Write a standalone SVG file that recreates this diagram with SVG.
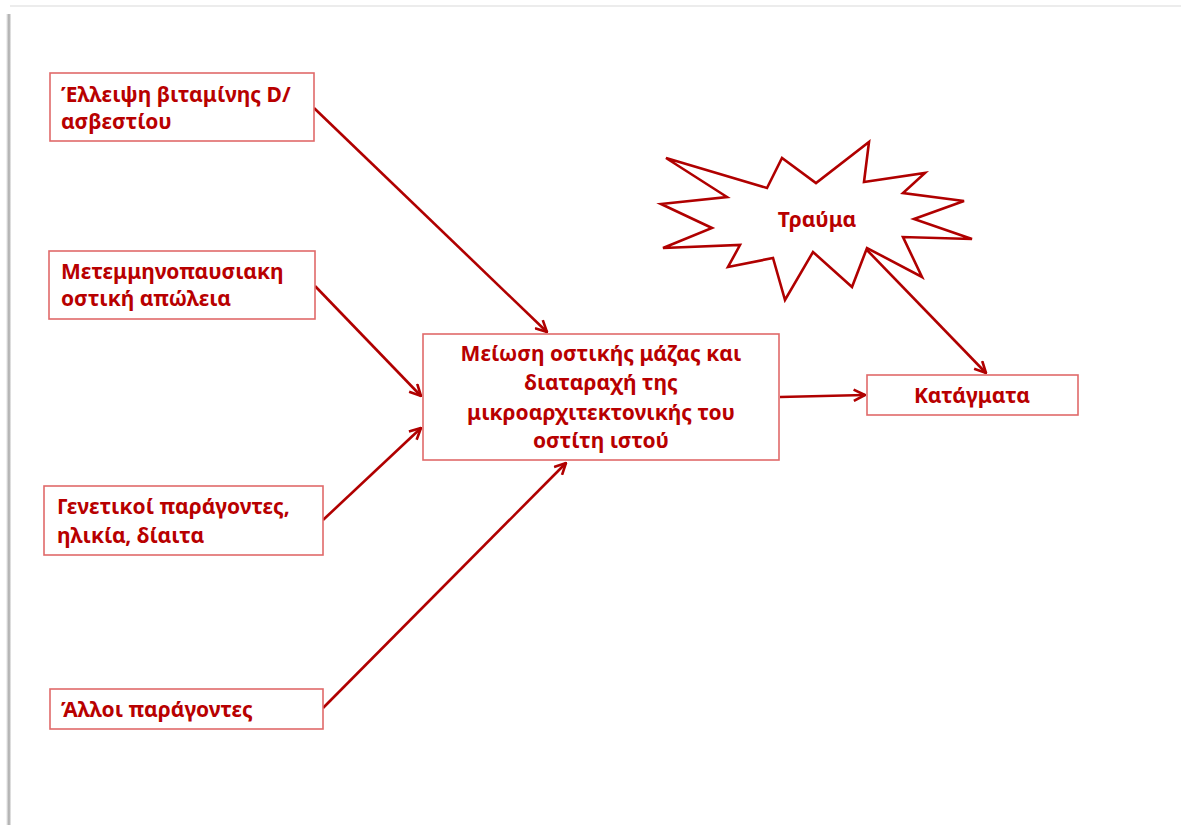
<svg xmlns="http://www.w3.org/2000/svg" width="1181" height="825" viewBox="0 0 1181 825">
  <style>
    .box { fill: #ffffff; stroke: #e06a6a; stroke-width: 1.6; }
    .lbl { font-family: "Noto Sans", "Open Sans", sans-serif; font-weight: bold; font-size: 21px; fill: #b80000; }
    .mid { text-anchor: middle; }
    .edge { fill: none; stroke: #b00000; stroke-width: 2.6; marker-end: url(#arrow); }
    .burst { fill: #ffffff; stroke: #b00000; stroke-width: 2.6; stroke-linejoin: miter; }
  </style>
  <defs>
    <marker id="arrow" viewBox="0 0 12 12" refX="11" refY="6" markerWidth="5.2" markerHeight="5.2" markerUnits="strokeWidth" orient="auto">
      <path d="M1,1 L11,6 L1,11" fill="none" stroke="#b00000" stroke-width="2.3" stroke-linejoin="miter"/>
    </marker>
    <linearGradient id="leftEdge" x1="0" y1="0" x2="1" y2="0">
      <stop offset="0" stop-color="#ffffff"/>
      <stop offset="0.6" stop-color="#a6a6a6"/>
      <stop offset="1" stop-color="#f0f0f0"/>
    </linearGradient>
  </defs>

  <!-- page -->
  <rect x="0" y="0" width="1181" height="825" fill="#ffffff"/>
  <rect x="6" y="14" width="5" height="811" fill="url(#leftEdge)"/>
  <rect x="10" y="5" width="1171" height="2" fill="#ececec"/>

  <!-- connectors -->
  <g id="connectors">
    <line class="edge" x1="314" y1="108" x2="547" y2="332"/>
    <line class="edge" x1="315" y1="286" x2="421" y2="396"/>
    <line class="edge" x1="323" y1="520" x2="421" y2="428"/>
    <line class="edge" x1="323" y1="708" x2="566" y2="463"/>
    <line class="edge" x1="780" y1="397" x2="865" y2="395"/>
    <line class="edge" x1="866" y1="249" x2="986" y2="373"/>
  </g>

  <g id="node-vitamin">
    <rect class="box" x="50" y="73" width="264" height="68"/>
    <text class="lbl" x="61" y="102">Έλλειψη βιταμίνης D/</text>
    <text class="lbl" x="61" y="129">ασβεστίου</text>
  </g>

  <g id="node-menopause">
    <rect class="box" x="49" y="251" width="266" height="68"/>
    <text class="lbl" x="61" y="279">Μετεμμηνοπαυσιακη</text>
    <text class="lbl" x="61" y="306">οστική απώλεια</text>
  </g>

  <g id="node-genetic">
    <rect class="box" x="44" y="486" width="279" height="69"/>
    <text class="lbl" x="57" y="514">Γενετικοί παράγοντες,</text>
    <text class="lbl" x="57" y="543">ηλικία, δίαιτα</text>
  </g>

  <g id="node-other">
    <rect class="box" x="50" y="689" width="273" height="40"/>
    <text class="lbl" x="61" y="717">Άλλοι παράγοντες</text>
  </g>

  <g id="node-bone-loss">
    <rect class="box" x="423" y="334" width="356" height="126"/>
    <text class="lbl mid" x="601" y="361">Μείωση οστικής μάζας και</text>
    <text class="lbl mid" x="601" y="390">διαταραχή της</text>
    <text class="lbl mid" x="601" y="420">μικροαρχιτεκτονικής του</text>
    <text class="lbl mid" x="601" y="448">οστίτη ιστού</text>
  </g>

  <g id="node-fractures">
    <rect class="box" x="867" y="375" width="211" height="40"/>
    <text class="lbl mid" x="972" y="403">Κατάγματα</text>
  </g>

  <g id="node-trauma">
    <polygon class="burst" points="666,158 767,188 782,158 816,183 869,142 864,182 925,173 903,193 964,201 914,219 972,239 903,237 922,277 867,248 852,287 813,252 785,300 773,258 728,267 740,245 663,248 712,228 661,204 727,197"/>
    <text class="lbl mid" x="817" y="227">Τραύμα</text>
  </g>
</svg>
